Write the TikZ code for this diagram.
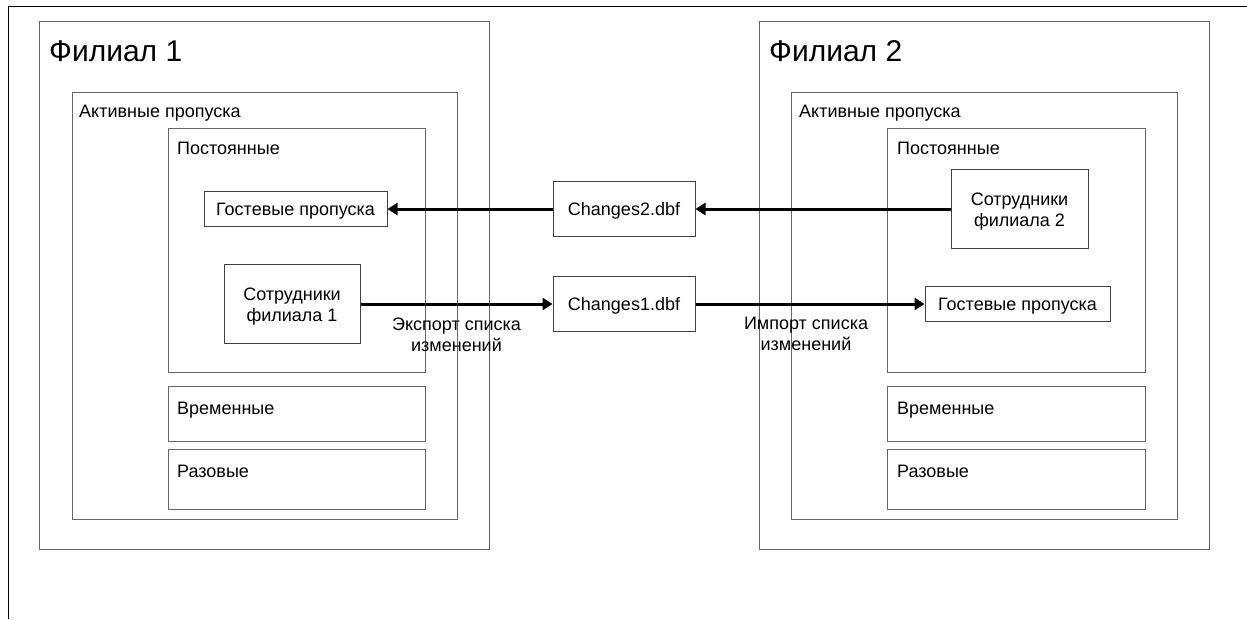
\documentclass[tikz,border=0pt]{standalone}
\usepackage{fontspec}
\setmainfont{Liberation Sans}
\usepackage{tikz}
\usetikzlibrary{arrows.meta}

\begin{document}
\begin{tikzpicture}[
          x=1pt, y=-1pt,
          % Stile dei riquadri contenitori
          riquadro/.style={
              draw=black!60,
              rectangle,
              line width=1pt,
              inner sep=0pt
          },
          % Stile dei blocchi interni
          blocco/.style={
              draw=black!75,
              rectangle,
              line width=1pt,
              align=center,
              text height=13pt,
              text depth=0pt,
              font=\fontsize{18}{21}\selectfont
          },
          % Blocchi su due righe
          blocco2/.style={
              blocco,
              text height=34pt
          },
          % Stile delle etichette dei riquadri
          titolo/.style={
              anchor=base west,
              inner sep=0pt,
              font=\fontsize{18}{21}\selectfont
          },
          % Stile per le frecce con la punta marcata
          freccia/.style={
              -{Triangle[length=10pt, width=12pt]},
              line width=3pt
          }
      ]
          \useasboundingbox (0,0) rectangle (1247,619);

          % 0. Cornice esterna
          \draw [line width=1pt] (8,619) -- (8,6) -- (1247,6);

          % 1. Filiale 1
          \node [riquadro, minimum width=450pt, minimum height=528pt] (filiale1) at (264,285) {};
          \node [titolo, font=\fontsize{30}{36}\selectfont] (titolo1) at (49,61) {Филиал 1};
          \node [riquadro, minimum width=385pt, minimum height=427pt] (attivi1) at (264.5,305.5) {};
          \node [titolo] (tattivi1) at (79,117) {Активные пропуска};
          \node [riquadro, minimum width=257pt, minimum height=244pt] (perm1) at (296.5,250) {};
          \node [titolo] (tperm1) at (177,154) {Постоянные};
          \node [riquadro, minimum width=257pt, minimum height=55pt] (temp1) at (296.5,413.5) {};
          \node [titolo] (ttemp1) at (177,414) {Временные};
          \node [riquadro, minimum width=257pt, minimum height=60pt] (once1) at (296.5,479) {};
          \node [titolo] (tonce1) at (177,477) {Разовые};
          \node [blocco, minimum width=183pt, minimum height=35pt] (ospiti1) at (295.5,209) {Гостевые пропуска};
          \node [blocco2, minimum width=136pt, minimum height=79pt] (staff1) at (292,304) {Сотрудники\\филиала 1};

          % 2. File di scambio
          \node [blocco, minimum width=142pt, minimum height=55pt] (changes2) at (624,209) {Changes2.dbf};
          \node [blocco, minimum width=142pt, minimum height=55pt] (changes1) at (624,304) {Changes1.dbf};

          % 3. Filiale 2
          \node [riquadro, minimum width=450pt, minimum height=528pt] (filiale2) at (984,285) {};
          \node [titolo, font=\fontsize{30}{36}\selectfont] (titolo2) at (769,61) {Филиал 2};
          \node [riquadro, minimum width=386pt, minimum height=427pt] (attivi2) at (984,305.5) {};
          \node [titolo] (tattivi2) at (799,117) {Активные пропуска};
          \node [riquadro, minimum width=258pt, minimum height=244pt] (perm2) at (1016,250) {};
          \node [titolo] (tperm2) at (897,154) {Постоянные};
          \node [riquadro, minimum width=258pt, minimum height=55pt] (temp2) at (1016,413.5) {};
          \node [titolo] (ttemp2) at (897,414) {Временные};
          \node [riquadro, minimum width=258pt, minimum height=60pt] (once2) at (1016,479) {};
          \node [titolo] (tonce2) at (897,477) {Разовые};
          \node [blocco2, minimum width=137pt, minimum height=79pt] (staff2) at (1019.5,209) {Сотрудники\\филиала 2};
          \node [blocco, minimum width=185pt, minimum height=35pt] (ospiti2) at (1017.5,304) {Гостевые пропуска};

          % 4. Frecce di esportazione e importazione
          \draw [freccia] (staff2.west) -- (changes2.east);
          \draw [freccia] (changes2.west) -- (ospiti1.east);
          \draw [freccia] (staff1.east) -- (changes1.west)
              node [midway, below=12pt, align=center, inner sep=0pt, font=\fontsize{18}{21}\selectfont] (export) {Экспорт списка\\изменений};
          \draw [freccia] (changes1.east) -- (ospiti2.west)
              node [midway, below=12pt, xshift=-4pt, align=center, inner sep=0pt, font=\fontsize{18}{21}\selectfont] (import) {Импорт списка\\изменений};

      \end{tikzpicture}
\end{document}
